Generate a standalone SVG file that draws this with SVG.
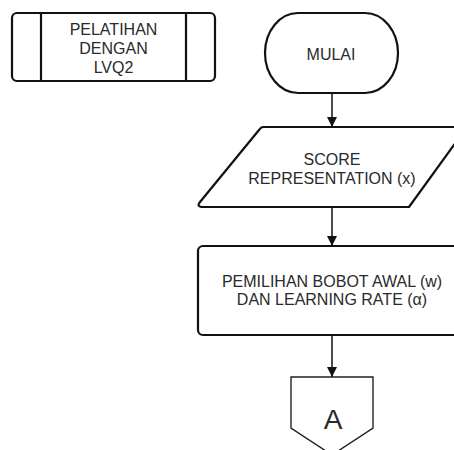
<svg xmlns="http://www.w3.org/2000/svg" width="454" height="450" viewBox="0 0 454 450">
  <defs>
    <style>
      .shape { fill: #ffffff; stroke: #111111; stroke-width: 2.2; stroke-linejoin: round; }
      .thin { fill: #ffffff; stroke: #222222; stroke-width: 1.4; }
      .label { font-family: "Liberation Sans", Arial, sans-serif; font-size: 16px; fill: #2a2a2a; text-anchor: middle; }
      .edge { stroke: #111111; stroke-width: 1.5; fill: none; }
    </style>
    <marker id="arrow" viewBox="0 0 10 10" refX="10" refY="5" markerWidth="10" markerHeight="10" markerUnits="userSpaceOnUse" orient="auto">
      <path d="M0,0 L10,5 L0,10 Z" fill="#111111"/>
    </marker>
  </defs>
  <rect width="454" height="450" fill="#ffffff"/>

  <!-- predefined process -->
  <g id="pelatihan">
    <rect class="shape" x="12" y="13" width="203" height="68" rx="5"/>
    <line class="shape" x1="41" y1="13" x2="41" y2="81"/>
    <line class="shape" x1="186" y1="13" x2="186" y2="81"/>
    <text class="label" x="113.5" y="35">PELATIHAN</text>
    <text class="label" x="113.5" y="54">DENGAN</text>
    <text class="label" x="113.5" y="73">LVQ2</text>
  </g>

  <!-- start terminal -->
  <g id="mulai">
    <rect class="shape" x="265" y="13" width="133" height="80" rx="33" ry="40"/>
    <text class="label" x="331" y="60">MULAI</text>
  </g>

  <!-- input -->
  <g id="score">
    <path class="shape" d="M263,127 L467,127 L409,207 L203,207 Q196,207 200,202 L259,130 Q261,127 263,127 Z"/>
    <text class="label" x="332" y="165">SCORE</text>
    <text class="label" x="332" y="184">REPRESENTATION (x)</text>
  </g>

  <!-- process -->
  <g id="pemilihan">
    <rect class="shape" x="198" y="246" width="268" height="89" rx="5"/>
    <text class="label" x="332" y="287">PEMILIHAN BOBOT AWAL (w)</text>
    <text class="label" x="332" y="305">DAN LEARNING RATE (α)</text>
  </g>

  <!-- off-page connector -->
  <g id="connector-a">
    <path class="thin" d="M291,377 L373,377 L373,428 L332,455 L291,428 Z"/>
    <text class="label" x="333" y="429" style="font-size:28px">A</text>
  </g>

  <g id="edges">
    <line class="edge" x1="332" y1="93" x2="332" y2="127" marker-end="url(#arrow)"/>
    <line class="edge" x1="332" y1="207" x2="332" y2="246" marker-end="url(#arrow)"/>
    <line class="edge" x1="332" y1="335" x2="332" y2="377" marker-end="url(#arrow)"/>
  </g>
</svg>
